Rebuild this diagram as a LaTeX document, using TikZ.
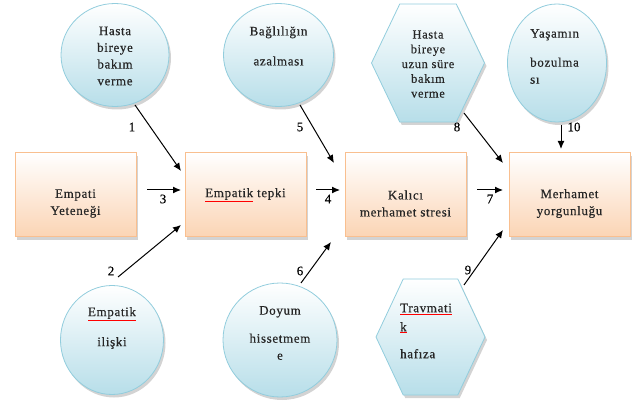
\documentclass[tikz,border=0pt]{standalone}
\usepackage{fontspec}
\setmainfont{Liberation Serif}[LetterSpace=5,FakeBold=0.4]
\usetikzlibrary{arrows.meta,shapes.geometric,shadows,positioning}
\definecolor{kutukenar}{RGB}{249,191,143}
\definecolor{kutualt}{RGB}{251,212,180}
\definecolor{balonkenar}{RGB}{146,205,221}
\definecolor{balonalt}{RGB}{183,222,233}
\newcommand{\imla}[1]{{\color{red}\underline{\textcolor{black!85}{#1}}}}

\begin{document}
\begin{tikzpicture}[x=1pt,y=-1pt]
\tikzstyle{golge}=[drop shadow={opacity=0.35,shadow xshift=2pt,shadow yshift=-3pt}]
\tikzstyle{kutu}=[draw=kutukenar,line width=1pt,top color=white,bottom color=kutualt,minimum width=121pt,minimum height=84pt,inner sep=0pt,golge]
\tikzstyle{balon}=[ellipse,draw=balonkenar,line width=0.8pt,top color=white,bottom color=balonalt,inner sep=0pt,golge]
\tikzstyle{altigen}=[regular polygon,regular polygon sides=6,draw=balonkenar,line width=0.8pt,top color=white,bottom color=balonalt,inner sep=0pt,transform shape,golge]
\tikzstyle{yazi}=[font=\fontsize{13}{17}\selectfont,align=center,inner sep=0pt,text=black!85]
\tikzstyle{sayi}=[font=\fontsize{13}{13}\selectfont\addfontfeature{LetterSpace=0},inner sep=0pt]
\tikzstyle{ok}=[-{Latex[length=8pt,width=7pt]},line width=1pt]

\useasboundingbox (0,0) rectangle (633,401);

% orta sira
\node[kutu] (yetenek) at (75.5,195) {};
\node[kutu] (tepki) at (245.5,195) {};
\node[kutu] (stres) at (405.5,195) {};
\node[kutu] (yorgunluk) at (569.5,195) {};

% ust sira
\node[balon,minimum width=108pt,minimum height=103pt] (bakim) at (115,55) {};
\node[balon,minimum width=110pt,minimum height=103pt] (baglilik) at (278.5,55) {};
\node[altigen,minimum size=113pt,yscale=1.205] (uzunbakim) at (428,63) {};
\node[balon,minimum width=99pt,minimum height=118pt] (yasam) at (557,63) {};

% alt sira
\node[balon,minimum width=103pt,minimum height=109pt] (iliski) at (112,340) {};
\node[balon,minimum width=114pt,minimum height=114pt] (doyum) at (280,340) {};
\node[altigen,minimum size=109pt,yscale=1.23] (travma) at (430.5,337) {};

% yazilar
\node[yazi] (yetenekyazi) at (75.5,203.5) {Empati\\Yeteneği};
\node[yazi] (tepkiyazi) at (245.5,195) {\imla{Empatik} tepki};
\node[yazi] (stresyazi) at (405.5,203.5) {Kalıcı\\merhamet stresi};
\node[yazi] (yorgunlukyazi) at (569.5,203.5) {Merhamet\\yorgunluğu};
\node[yazi,font=\fontsize{13}{16.7}\selectfont] (bakimyazi) at (115,56) {Hasta\\bireye\\bakım\\verme};
\node[yazi] (baglilikyazi) at (278.5,46) {Bağlılığın\\[13pt]azalması};
\node[yazi,font=\fontsize{12.5}{14.75}\selectfont] (uzunbakimyazi) at (428,64) {Hasta\\bireye\\uzun süre\\bakım\\verme};
\node[yazi,align=left,anchor=west] (yasamyazi) at (530,56.5) {Yaşamın\\[12pt]bozulma\\sı};
\node[yazi] (iliskiyazi) at (112,328) {\imla{Empatik}\\[13pt]ilişki};
\node[yazi] (doyumyazi) at (280,333) {Doyum\\[11pt]hissetmem\\e};
\node[yazi,align=left,anchor=west] (travmayazi) at (400,331) {\imla{Travmati}\\[2pt]\imla{k}\\[10pt]hafıza};

% oklar
\coordinate (o1a) at (135,105);  \coordinate (o1b) at (181,171);
\coordinate (o2a) at (118,277);  \coordinate (o2b) at (181,225);
\coordinate (o3a) at (147,190);  \coordinate (o3b) at (181,190);
\coordinate (o4a) at (316,190);  \coordinate (o4b) at (340,190);
\coordinate (o5a) at (300,105);  \coordinate (o5b) at (334,163);
\coordinate (o6a) at (301,283);  \coordinate (o6b) at (331,242);
\coordinate (o7a) at (477,190);  \coordinate (o7b) at (503,190);
\coordinate (o8a) at (464,113);  \coordinate (o8b) at (503,163);
\coordinate (o9a) at (464,285);  \coordinate (o9b) at (503,230);
\coordinate (o10a) at (561,125); \coordinate (o10b) at (561,149);

\draw[ok] (o1a) -- (o1b);
\draw[ok] (o2a) -- (o2b);
\draw[ok] (o3a) -- (o3b);
\draw[ok] (o4a) -- (o4b);
\draw[ok] (o5a) -- (o5b);
\draw[ok] (o6a) -- (o6b);
\draw[ok] (o7a) -- (o7b);
\draw[ok] (o8a) -- (o8b);
\draw[ok] (o9a) -- (o9b);
\draw[ok] (o10a) -- (o10b);

\node[sayi] (s1) at (132,127) {1};
\node[sayi] (s2) at (111,271) {2};
\node[sayi] (s3) at (163,199) {3};
\node[sayi] (s4) at (328,199) {4};
\node[sayi] (s5) at (300,127) {5};
\node[sayi] (s6) at (300,271) {6};
\node[sayi] (s7) at (490,199) {7};
\node[sayi] (s8) at (457,127) {8};
\node[sayi] (s9) at (468,270) {9};
\node[sayi] (s10) at (574,127) {10};
\end{tikzpicture}
\end{document}
